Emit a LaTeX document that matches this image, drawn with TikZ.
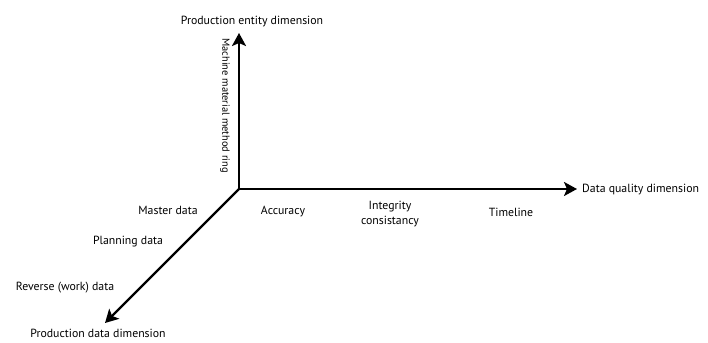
\documentclass[tikz,border=0pt]{standalone}
\usepackage{fontspec}
\setmainfont{PT Sans}
\usetikzlibrary{arrows.meta}
\begin{document}
\begin{tikzpicture}[x=1pt,y=-1pt,
  axis/.style={line width=2.4pt,-{Stealth[length=13pt,width=14pt,inset=3pt]}},
  lbl/.style={font=\fontsize{11.8}{14.5}\selectfont,inner sep=0pt,align=center},
  small/.style={font=\fontsize{10.4}{12}\selectfont,inner sep=0pt}]
\useasboundingbox (0,0) rectangle (708,342);
\coordinate (o) at (239,189);
\coordinate (up) at (239,33);
\coordinate (right) at (577,189);
\coordinate (diag) at (105,323);
\draw[axis] (o) -- (up);
\draw[axis] (o) -- (right);
\draw[axis] (o) -- (diag);
% axis titles
\node[lbl] (ent) at (252,22) {Production entity dimension};
\node[lbl,anchor=west] (qual) at (582,190) {Data quality dimension};
\node[lbl] (prod) at (98,333) {Production data dimension};
% vertical axis label
\node[small,rotate=-90] (mm) at (225,105.5) {Machine material method ring};
% data quality items
\node[lbl] (acc) at (283,212) {Accuracy};
\node[lbl] (integ) at (390,214) {Integrity\\consistancy};
\node[lbl] (time) at (511,212) {Timeline};
% production data items
\node[lbl] (master) at (168,210) {Master data};
\node[lbl] (plan) at (128,242) {Planning data};
\node[lbl] (rev) at (65,288) {Reverse (work) data};
\end{tikzpicture}
\end{document}
